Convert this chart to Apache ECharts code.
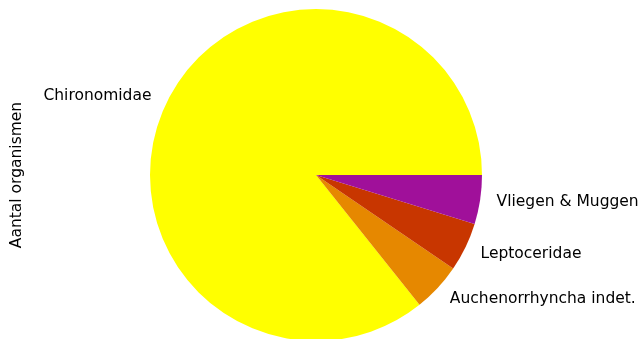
<!DOCTYPE html>
<html>
<head>
<meta charset="utf-8">
<script src="https://cdn.jsdelivr.net/npm/echarts@6/dist/echarts.min.js"></script>
<style>html,body{margin:0;padding:0;background:#fff}#c{width:642px;height:339px}</style>
</head>
<body>
<div id="c"></div>
<script>
var categories = ['Chironomidae', 'Auchenorrhyncha indet.', 'Leptoceridae', 'Vliegen & Muggen'];
var counts = [18, 1, 1, 1];
var colors = ['#ffff00', '#e68800', '#c83600', '#a0109a'];
var yLabel = 'Aantal organismen';

var R = 166;
var chart = echarts.init(document.getElementById('c'), null, {renderer: 'canvas'});
chart.setOption({
  animation: false,
  backgroundColor: '#ffffff',
  graphic: [{
    type: 'text',
    x: 17, y: 175,
    rotation: Math.PI / 2,
    style: {
      text: yLabel,
      fill: '#000',
      font: '15.5px "DejaVu Sans"',
      align: 'center',
      verticalAlign: 'middle'
    }
  }],
  series: [{
    type: 'pie',
    center: [316, 175],
    radius: [0, R],
    startAngle: 0,
    clockwise: false,
    avoidLabelOverlap: false,
    minShowLabelAngle: 0,
    data: categories.map(function (c, i) {
      return {name: c, value: counts[i], itemStyle: {color: colors[i]}};
    }),
    itemStyle: {borderWidth: 0},
    emphasis: {disabled: true},
    label: {
      show: true,
      position: 'outside',
      formatter: '{b}',
      color: '#000',
      fontFamily: 'DejaVu Sans',
      fontSize: 15.5,
      distanceToLabelLine: 0,
      alignTo: 'none'
    },
    labelLine: {show: false, length: R * 0.1, length2: 0}
  }]
});
</script>
</body>
</html>
